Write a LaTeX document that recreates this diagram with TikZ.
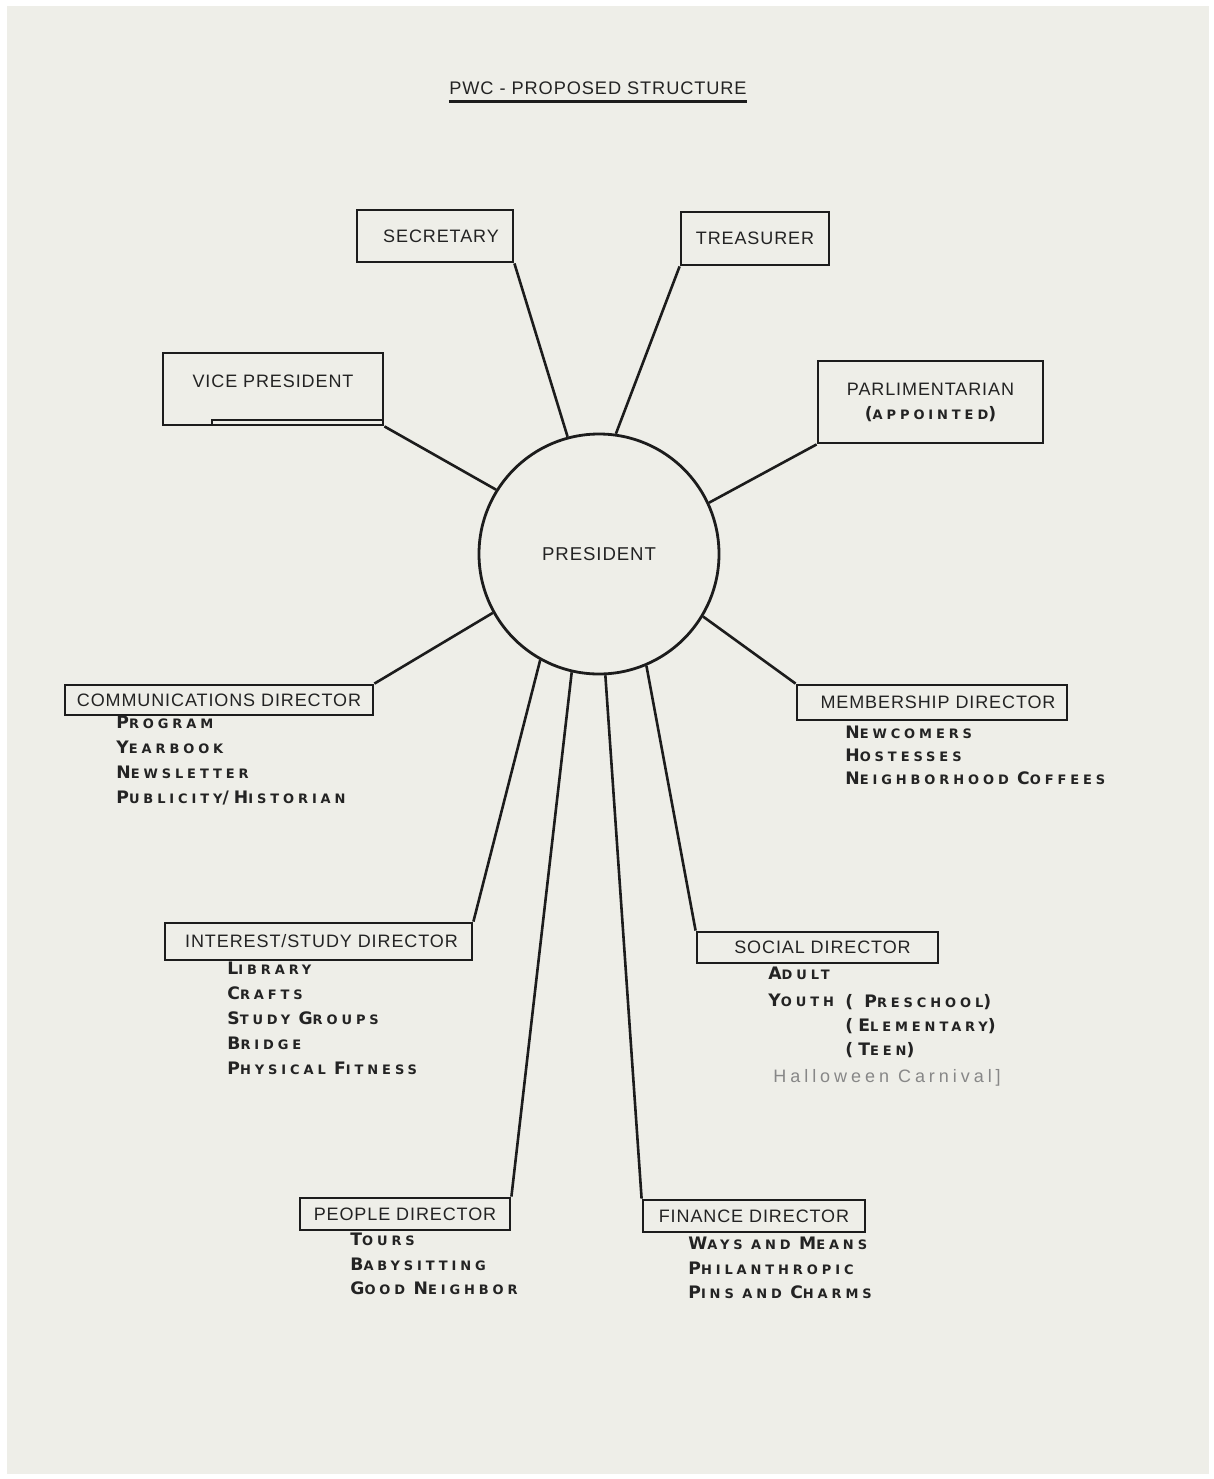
\documentclass[tikz,border=0pt]{standalone}
\usepackage{fontspec}
\setmainfont{Liberation Sans}
\newfontfamily\lblfont[LetterSpace=5]{Liberation Sans}
\newfontfamily\itmfont[LetterSpace=30]{DejaVu Sans}
\newfontfamily\handfont[LetterSpace=22]{Liberation Sans}
\newcommand\fsc[2]{{\fontsize{8.6}{12}\selectfont #1}{\fontsize{6.5}{12}\selectfont #2}}
\definecolor{paper}{RGB}{238,238,232}
\definecolor{ink}{RGB}{28,28,28}
\definecolor{txt}{RGB}{35,35,35}
\definecolor{pencil}{RGB}{135,135,135}
\tikzset{
  box/.style={draw=ink, line width=1.4pt, inner sep=0pt, text=txt,
    font=\lblfont\fontsize{9}{11}\selectfont},
  conn/.style={draw=ink, line width=1.3pt},
  items/.style={anchor=north west, inner sep=0pt, align=left, text=txt,
    font=\itmfont\bfseries\fontsize{8.6}{12.5}\selectfont},
}
\begin{document}
\begin{tikzpicture}[x=0.5pt,y=-0.5pt]
\fill[white] (0,0) rectangle (1214,1479);
\fill[paper] (7,6) rectangle (1209,1474);
\useasboundingbox (0,0) rectangle (1214,1479);

% title
\node[inner sep=0pt, text=txt, font=\lblfont\fontsize{9.1}{11}\selectfont] (title) at (598,88) {PWC - PROPOSED STRUCTURE};
\draw[ink, line width=1.6pt] ([yshift=-3.5pt]title.south west) -- ([yshift=-3.5pt]title.south east);

% president
\node[circle, draw=ink, line width=1.4pt, minimum size=120pt, inner sep=0pt, text=txt,
  font=\lblfont\fontsize{9.3}{11}\selectfont] (pres) at (599,554) {PRESIDENT};

% boxes
\node[box, minimum width=78pt, minimum height=26pt] (sec) at (435,236) {\hspace*{6pt}SECRETARY};
\node[box, minimum width=74pt, minimum height=26.5pt] (tre) at (755,238.5) {TREASURER};
\node[box, minimum width=110pt, minimum height=36pt] (vp) at (273,389) {\raisebox{8pt}{VICE PRESIDENT}};
\draw[ink, line width=0.8pt] (212,425) -- (212,420) -- (383,420);
\node[box, minimum width=112.5pt, minimum height=41pt, align=center] (par) at (930.5,402)
  {PARLIMENTARIAN\\[1pt]{\itmfont\bfseries\fsc{(}{APPOINTED}\fsc{)}{}}};
\node[box, minimum width=154pt, minimum height=15pt] (com) at (219,700) {COMMUNICATIONS DIRECTOR};
\node[box, minimum width=135pt, minimum height=17.5pt] (mem) at (932,702.5) {\hspace*{6pt}MEMBERSHIP DIRECTOR};
\node[box, minimum width=153.5pt, minimum height=18.5pt] (int) at (318.5,941.5) {\hspace*{3pt}INTEREST/STUDY DIRECTOR};
\node[box, minimum width=120.5pt, minimum height=15.5pt] (soc) at (817.5,947.5) {\hspace*{5pt}SOCIAL DIRECTOR};
\node[box, minimum width=105pt, minimum height=16pt] (peo) at (405,1214) {PEOPLE DIRECTOR};
\node[box, minimum width=111pt, minimum height=16pt] (fin) at (754,1216) {FINANCE DIRECTOR};

% connectors
\draw[conn] (pres.105.1) -- (sec.south east);
\draw[conn] (pres.82.3) -- (tre.south west);
\draw[conn] (pres.148.9) -- (vp.south east);
\draw[conn] (pres.25.1) -- (par.south west);
\draw[conn] (pres.209.9) -- (com.north east);
\draw[conn] (pres.329.4) -- (mem.north west);
\draw[conn] (pres.241.3) -- (int.north east);
\draw[conn] (pres.293.8) -- (soc.north west);
\draw[conn] (pres.257.2) -- (peo.north east);
\draw[conn] (pres.273.8) -- (fin.north west);

% item lists
\node[items] (comitems) at (116,716)
  {\fsc{P}{ROGRAM}\\\fsc{Y}{EARBOOK}\\\fsc{N}{EWSLETTER}\\\fsc{P}{UBLICITY}/\fsc{H}{ISTORIAN}};
\node[items, font=\itmfont\bfseries\fontsize{8.6}{11.5}\selectfont] (memitems) at (845,726)
  {\fsc{N}{EWCOMERS}\\\fsc{H}{OSTESSES}\\\fsc{N}{EIGHBORHOOD }\fsc{C}{OFFEES}};
\node[items] (intitems) at (227,962)
  {\fsc{L}{IBRARY}\\\fsc{C}{RAFTS}\\\fsc{S}{TUDY }\fsc{G}{ROUPS}\\\fsc{B}{RIDGE}\\\fsc{P}{HYSICAL }\fsc{F}{ITNESS}};
\node[items] (socadult) at (768,967) {\fsc{A}{DULT}};
\node[items] (socyouth) at (768,994) {\fsc{Y}{OUTH}};
\node[items, font=\itmfont\bfseries\fontsize{8.6}{12}\selectfont] (socgroups) at (845,994)
  {\fsc{( P}{RESCHOOL}\fsc{)}{}\\\fsc{(E}{LEMENTARY}\fsc{)}{}\\\fsc{(T}{EEN}\fsc{)}{}};
\node[anchor=north west, inner sep=0pt, text=pencil, font=\handfont\fontsize{9}{11}\selectfont] (hallo) at (773,1069) {Halloween Carnival]};
\node[items, font=\itmfont\bfseries\fontsize{8.6}{12.25}\selectfont] (peoitems) at (350,1233)
  {\fsc{T}{OURS}\\\fsc{B}{ABYSITTING}\\\fsc{G}{OOD }\fsc{N}{EIGHBOR}};
\node[items, font=\itmfont\bfseries\fontsize{8.6}{12.25}\selectfont] (finitems) at (688,1237)
  {\fsc{W}{AYS AND }\fsc{M}{EANS}\\\fsc{P}{HILANTHROPIC}\\\fsc{P}{INS AND }\fsc{C}{HARMS}};
\end{tikzpicture}
\end{document}
